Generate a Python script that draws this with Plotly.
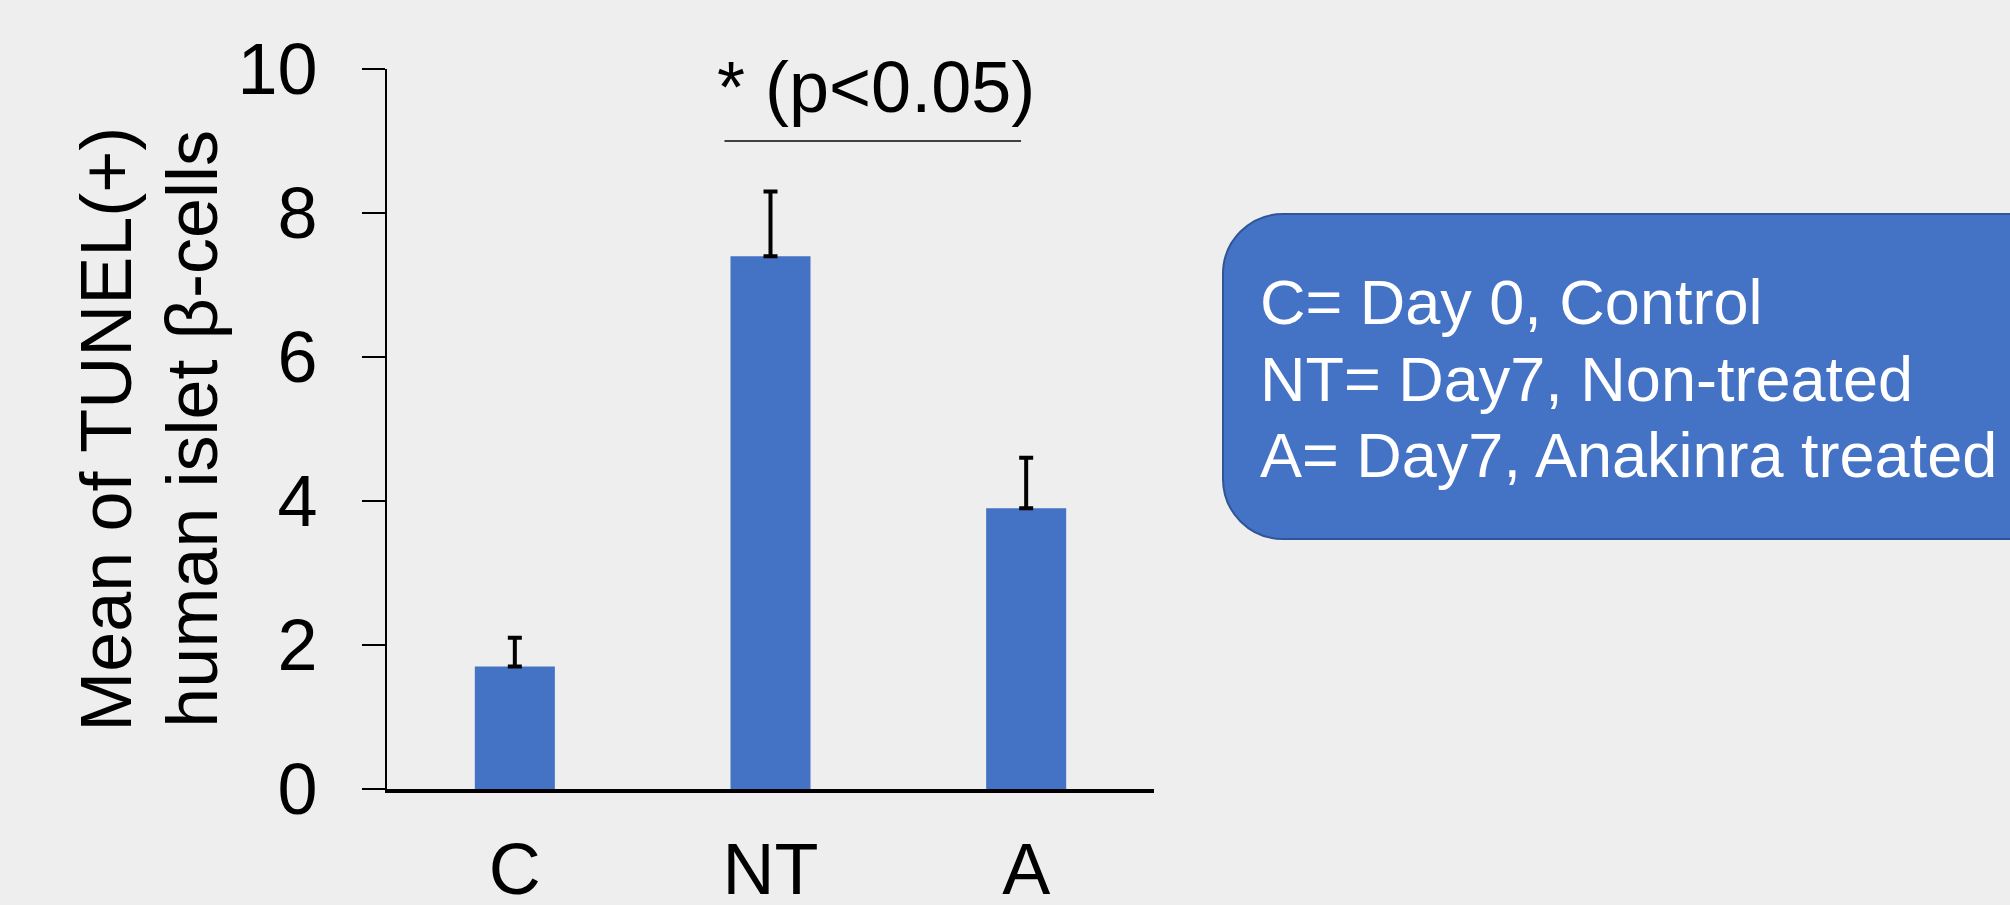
import plotly.graph_objects as go

# ---- data ----
categories = ["C", "NT", "A"]
means = [1.7, 7.4, 3.9]
errors_up = [0.4, 0.9, 0.7]
errors_down = [0, 0, 0]
y_ticks = [0, 2, 4, 6, 8, 10]
legend_lines = ["C= Day 0, Control", "NT= Day7, Non-treated", "A= Day7, Anakinra treated"]
y_title_lines = ["Mean of TUNEL(+)", "human islet β-cells"]
sig_label = "* (p<0.05)"
sig_from, sig_to, sig_level = 0.82, 1.98, 9.0

# ---- layout geometry (pixels) ----
W, H = 2010, 905
PL, PR, PT, PB = 387, 1154, 69, 789
FONT = "Arial, Liberation Sans, sans-serif"


def px(x):
    return (x - PL) / (PR - PL)


def py(y):
    return (PB - y) / (PB - PT)


fig = go.Figure(
    go.Bar(
        x=categories,
        y=means,
        width=0.313,
        marker=dict(color="#4472C4", line=dict(width=0)),
        error_y=dict(
            type="data",
            symmetric=False,
            array=errors_up,
            arrayminus=errors_down,
            color="black",
            thickness=4,
            width=7,
        ),
        showlegend=False,
    )
)

fig.update_layout(
    template="none",
    width=W,
    height=H,
    margin=dict(l=PL, r=W - PR, t=PT, b=H - PB, pad=0),
    paper_bgcolor="#EEEEEE",
    plot_bgcolor="#EEEEEE",
    font=dict(family=FONT, size=72, color="black"),
    bargap=0.687,
)

fig.update_xaxes(
    range=[-0.5, 2.5],
    showline=True,
    linecolor="black",
    linewidth=4,
    showgrid=False,
    zeroline=False,
    ticks="",
    ticklabelstandoff=15,
    tickfont=dict(size=72, family=FONT, color="black"),
    automargin=False,
)

fig.update_yaxes(
    range=[0, 10],
    tickvals=y_ticks,
    showline=True,
    linecolor="black",
    linewidth=2,
    showgrid=False,
    zeroline=False,
    ticks="outside",
    ticklen=23,
    tickwidth=2,
    tickcolor="black",
    ticklabelstandoff=30,
    tickfont=dict(size=72, family=FONT, color="black"),
    automargin=False,
)

# significance bar
fig.add_shape(
    type="line", xref="x", yref="y",
    x0=sig_from, x1=sig_to, y0=sig_level, y1=sig_level,
    line=dict(color="#404040", width=2),
)
fig.add_annotation(
    x=1.413, y=9.75, xref="x", yref="y", text=sig_label, showarrow=False,
    xanchor="center", yanchor="middle", font=dict(size=72, family=FONT, color="black"),
)

# y-axis title (two lines)
for cx, line in zip([105.7, 191.7], y_title_lines):
    fig.add_annotation(
        x=px(cx), y=0.5, xref="paper", yref="paper", text=line, showarrow=False,
        textangle=-90, xanchor="center", yanchor="middle",
        font=dict(size=72, family=FONT, color="black"),
    )

# rounded legend box
BL, BT, BB, BR, RAD = 1223, 214, 539, 2060, 60
K = 0.5523 * RAD


def P(x, y):
    return f"{px(x):.5f},{py(y):.5f}"


path = (
    f"M {P(BL + RAD, BT)} L {P(BR, BT)} L {P(BR, BB)} L {P(BL + RAD, BB)} "
    f"C {P(BL + RAD - K, BB)} {P(BL, BB - RAD + K)} {P(BL, BB - RAD)} "
    f"L {P(BL, BT + RAD)} "
    f"C {P(BL, BT + RAD - K)} {P(BL + RAD - K, BT)} {P(BL + RAD, BT)} Z"
)
fig.add_shape(
    type="path", xref="paper", yref="paper", path=path,
    fillcolor="#4472C4", line=dict(color="#2F5597", width=2), layer="above",
)

for cy, line in zip([302, 379, 455], legend_lines):
    fig.add_annotation(
        x=px(1258), y=py(cy), xref="paper", yref="paper", text=line, showarrow=False,
        xanchor="left", yanchor="middle", align="left",
        font=dict(size=63, family=FONT, color="white"),
    )

fig.write_html(
    "out.html",
    config={"displayModeBar": False},
    post_script="document.body.style.margin='0';document.body.style.overflow='hidden';",
)
